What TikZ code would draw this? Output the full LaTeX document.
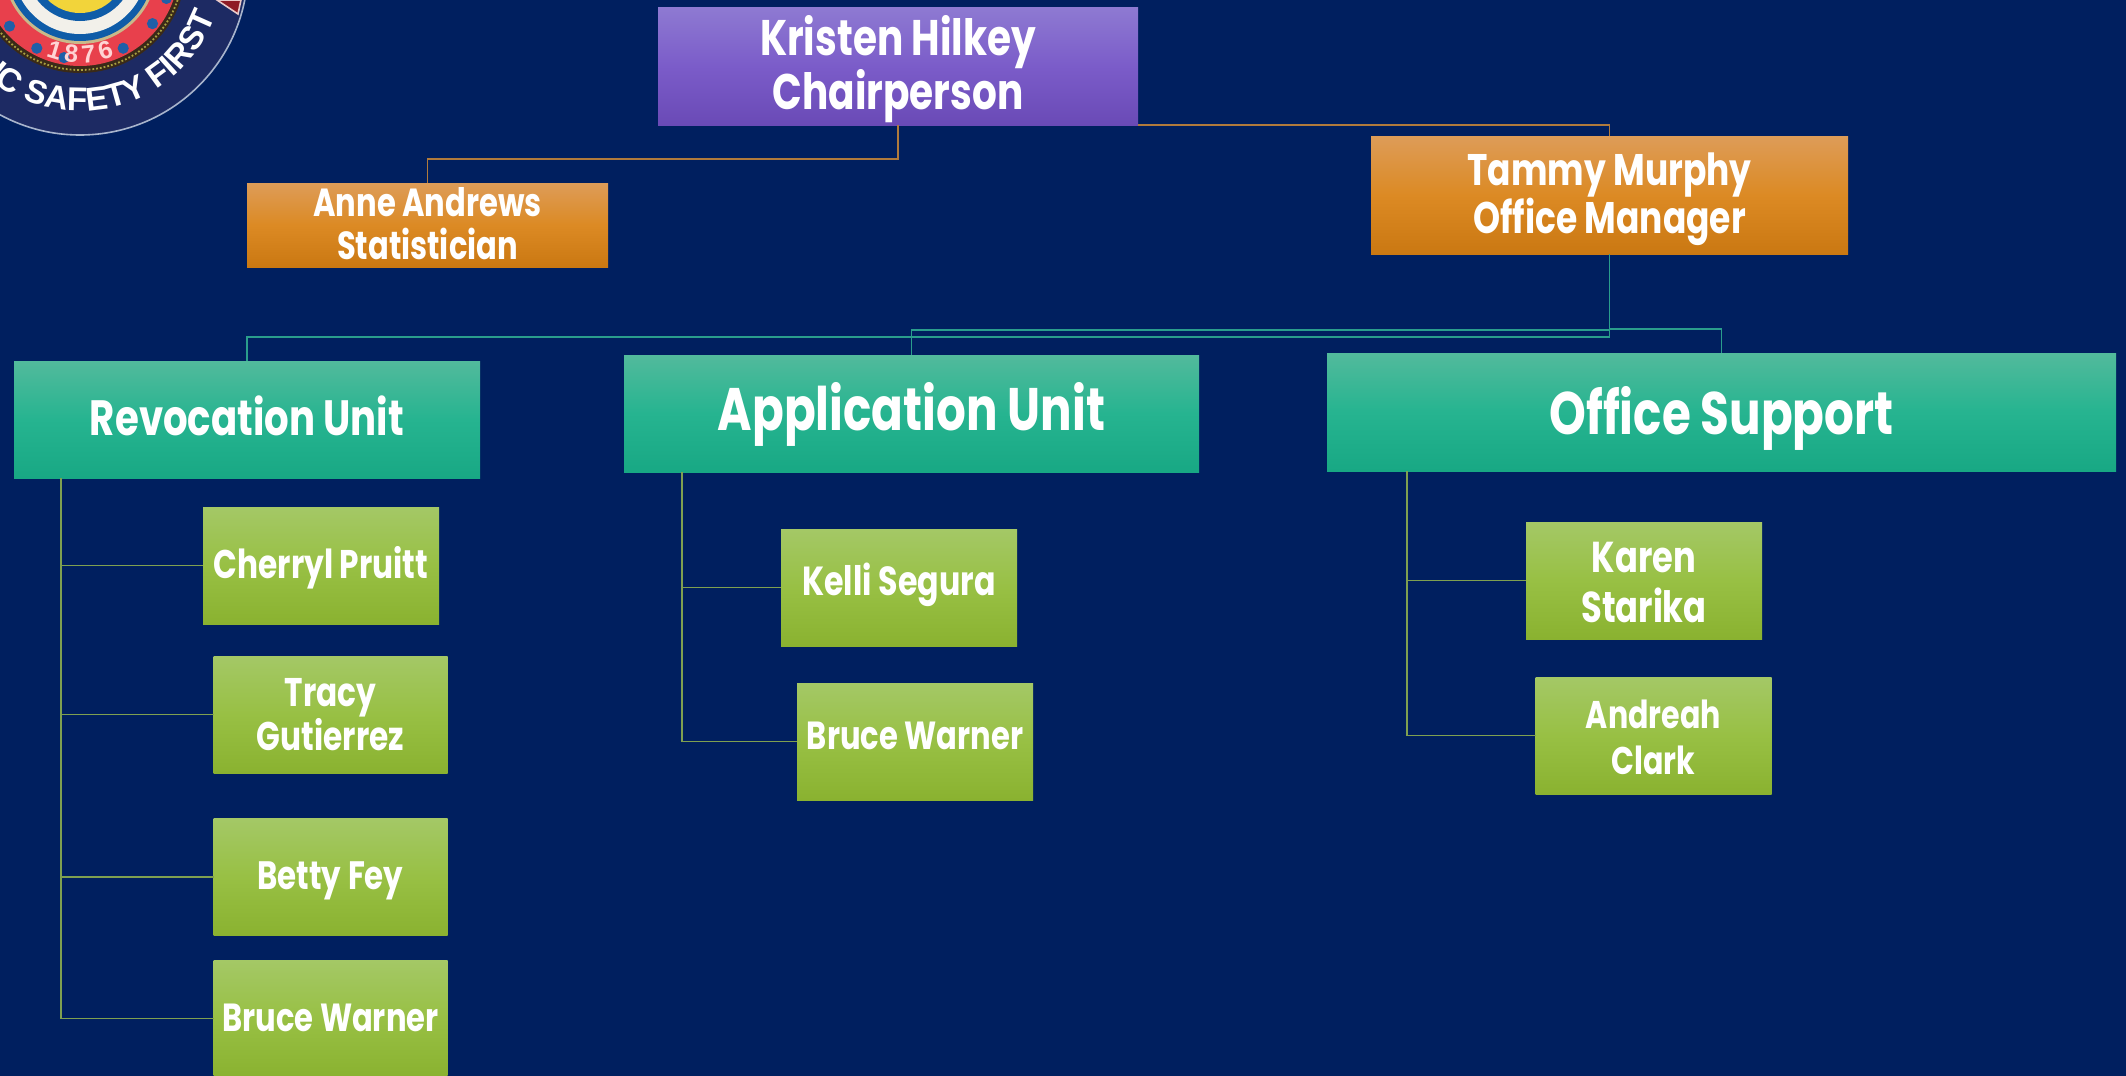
\documentclass[tikz,border=0pt]{standalone}
\usepackage{fontspec}
\setmainfont{Poppins}[BoldFont={Poppins Bold},FakeStretch=0.78]
\newfontfamily\sealfont{Liberation Sans}[BoldFont={Liberation Sans Bold}]
\usetikzlibrary{decorations.text,calc}
\newcommand\lbl[4]{\raisebox{#1pt}[\height][\depth]{\fontsize{#2}{#3}\bfseries\selectfont\begin{tabular}{@{}c@{}}#4\end{tabular}}}
\definecolor{bgnavy}{HTML}{001F5F}
\definecolor{sealnavy}{HTML}{1D2A63}
\definecolor{pA}{HTML}{6A4AB6}\definecolor{pB}{HTML}{7B5CC9}\definecolor{pC}{HTML}{8E7AD2}
\definecolor{oA}{HTML}{CA7812}\definecolor{oB}{HTML}{DC8A24}\definecolor{oC}{HTML}{DD9C58}
\definecolor{tA}{HTML}{18A884}\definecolor{tB}{HTML}{26B490}\definecolor{tC}{HTML}{52BA9C}
\definecolor{gA}{HTML}{8AB230}\definecolor{gB}{HTML}{98C044}\definecolor{gC}{HTML}{A4C866}
\definecolor{lineBrown}{HTML}{B07A3C}\definecolor{lineTeal}{HTML}{2A9D8C}\definecolor{lineGreen}{HTML}{7FA050}
\definecolor{sealEdge}{HTML}{A8B4CC}\definecolor{sealCorner}{HTML}{8E1B24}\definecolor{sealCornerEdge}{HTML}{E8C8C8}
\definecolor{sealDark}{HTML}{3A2A18}\definecolor{sealOlive}{HTML}{A8A040}\definecolor{sealRed}{HTML}{E8404C}
\definecolor{sealBlue}{HTML}{1F5FA8}\definecolor{sealTan}{HTML}{C9B98A}\definecolor{sealRing}{HTML}{0F5CA8}
\definecolor{sealWhite}{HTML}{F2F0EA}\definecolor{sealYellow}{HTML}{F2D43A}\definecolor{sealPink}{HTML}{FFD4D4}
\definecolor{sealBrown}{HTML}{7A5A20}
\pgfdeclareverticalshading{purpleshade}{100bp}{color(0bp)=(pA); color(25bp)=(pA); color(50bp)=(pB); color(75bp)=(pC); color(100bp)=(pC)}
\pgfdeclareverticalshading{orangeshade}{100bp}{color(0bp)=(oA); color(25bp)=(oA); color(50bp)=(oB); color(75bp)=(oC); color(100bp)=(oC)}
\pgfdeclareverticalshading{tealshade}{100bp}{color(0bp)=(tA); color(25bp)=(tA); color(50bp)=(tB); color(75bp)=(tC); color(100bp)=(tC)}
\pgfdeclareverticalshading{greenshade}{100bp}{color(0bp)=(gA); color(25bp)=(gA); color(50bp)=(gB); color(75bp)=(gC); color(100bp)=(gC)}
\tikzset{
  orgbox/.style={inner sep=0pt,outer sep=0pt,align=center,text=white,draw=none},
  purplebox/.style={orgbox,shade,shading=purpleshade},
  orangebox/.style={orgbox,shade,shading=orangeshade},
  tealbox/.style={orgbox,shade,shading=tealshade},
  greenbox/.style={orgbox,shade,shading=greenshade},
  person/.style={greenbox,minimum width=118pt,minimum height=58.5pt},
  brownline/.style={draw=lineBrown,line width=0.75pt},
  tealline/.style={draw=lineTeal,line width=0.7pt},
  greenline/.style={draw=lineGreen,line width=0.65pt},
}
\begin{document}
\begin{tikzpicture}[x=0.5pt,y=0.5pt]
\useasboundingbox (0,0) rectangle (2126,-1076);
\fill[bgnavy] (0,0) rectangle (2126,-1076);
\begin{scope}
\clip (0,0) rectangle (2126,-1076);
% seal
\coordinate (sc) at (80,33);
\fill[sealnavy,draw=sealEdge,line width=0.8pt] (sc) circle[radius=84pt];
\fill[sealCorner,draw=sealCornerEdge,line width=0.8pt] (217,0) -- (241,0) -- (238,-14) -- cycle;
\fill[sealDark] (sc) circle[radius=53pt];
\draw[sealOlive,line width=0.9pt,densely dotted] (sc) circle[radius=51.5pt];
\fill[sealRed] (sc) circle[radius=49.5pt];
\foreach \a in {-100,-62,-38,-20,0,-118,-140,-160} \fill[sealBlue] ($(sc)+(\a:46pt)$) circle[radius=2.8pt];
\fill[sealTan] (sc) circle[radius=38.5pt];
\fill[sealRing] (sc) circle[radius=37pt];
\fill[sealWhite] (sc) circle[radius=33.5pt];
\fill[sealRing] (sc) circle[radius=27pt];
\fill[sealYellow] (sc) circle[radius=23pt];
\draw[sealBrown,line width=1pt] ($(sc)+(-45:23pt)$) -- ++(135:12pt) ($(sc)+(-135:23pt)$) -- ++(45:12pt);
\path[decorate,decoration={text along path,text align=center,text color=white,
  text={|\sealfont\bfseries\fontsize{16.5}{16.5}\selectfont|PUBLIC SAFETY FIRST}}]
  (sc) ++(-183:72pt) arc[start angle=-183,end angle=-3,radius=72pt];
\path[decorate,decoration={text along path,text align={fit to path},text color=sealPink,
  text={|\sealfont\bfseries\fontsize{12.5}{12.5}\selectfont|1876}}]
  (sc) ++(-111:48pt) arc[start angle=-111,end angle=-69,radius=48pt];
\end{scope}
% boxes
\node[purplebox,minimum width=240pt,minimum height=59pt] (kristen) at (898,-66) {\lbl{-1.8}{25}{24}{Kristen Hilkey\\Chairperson}};
\node[orangebox,minimum width=180.5pt,minimum height=42pt] (anne) at (427.5,-225) {\lbl{-2.3}{19.6}{19.3}{Anne Andrews\\Statistician}};
\node[orangebox,minimum width=238.5pt,minimum height=59pt] (tammy) at (1609.5,-195) {\lbl{-2.4}{22.1}{22}{Tammy Murphy\\Office Manager}};
\node[tealbox,minimum width=233pt,minimum height=58.5pt] (rev) at (247,-419.5) {\lbl{-2}{24.8}{25}{Revocation Unit}};
\node[tealbox,minimum width=287.5pt,minimum height=58.5pt] (app) at (911.5,-413.5) {\lbl{-1.4}{30}{32}{Application Unit}};
\node[tealbox,minimum width=394.5pt,minimum height=59pt] (office) at (1721.5,-412) {\lbl{-4.1}{30}{32}{Office Support}};
\node[person] (cherryl) at (321,-565.5) {\lbl{-1.4}{20}{20}{Cherryl Pruitt}};
\node[person,minimum width=117pt] (tracy) at (330.5,-714.5) {\lbl{-3}{20}{19.5}{Tracy\\Gutierrez}};
\node[person,minimum width=117pt] (betty) at (330.5,-877) {\lbl{-2}{19.8}{20}{Betty Fey}};
\node[person,minimum width=117pt] (bruceA) at (330.5,-1018.5) {\lbl{-2.7}{19.6}{20}{Bruce Warner}};
\node[person] (kelli) at (899,-587.5) {\lbl{1.3}{20.3}{20}{Kelli Segura}};
\node[person] (bruceB) at (915,-741.5) {\lbl{0}{19.6}{20}{Bruce Warner}};
\node[person] (karen) at (1644,-580.5) {\lbl{-3.6}{21.6}{25}{Karen\\Starika}};
\node[person] (andreah) at (1653.5,-735.5) {\lbl{-3.4}{19.3}{23}{Andreah\\Clark}};
% reference coordinates
\coordinate (chairY) at (0,-159);
\coordinate (revY) at (0,-337);
\coordinate (appY) at (0,-330);
\coordinate (offY) at (0,-329);
\coordinate (spineA) at (61,0);
\coordinate (spineB) at (682,0);
\coordinate (spineC) at (1407,0);
\draw[brownline] (kristen.south) -- (kristen.south |- chairY) -- (anne.north |- chairY) -- (anne.north);
\draw[brownline] (kristen.south east) -| (tammy.north);
\draw[tealline] (tammy.south) -- (tammy.south |- revY) -- (rev.north |- revY) -- (rev.north);
\draw[tealline] (tammy.south) -- (tammy.south |- appY) -- (app.north |- appY) -- (app.north);
\draw[tealline] (tammy.south) -- (tammy.south |- offY) -- (office.north |- offY) -- (office.north);
\foreach \t in {cherryl,tracy,betty,bruceA} \draw[greenline] (rev.south -| spineA) |- (\t.west);
\foreach \t in {kelli,bruceB} \draw[greenline] (app.south -| spineB) |- (\t.west);
\foreach \t in {karen,andreah} \draw[greenline] (office.south -| spineC) |- (\t.west);
\end{tikzpicture}
\end{document}
